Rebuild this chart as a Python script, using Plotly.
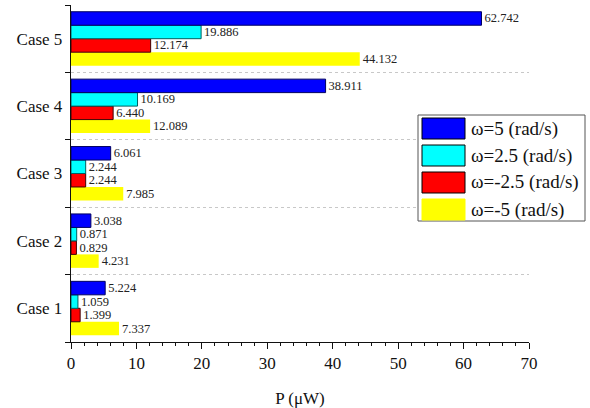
import plotly.graph_objects as go

cases = ["Case 1", "Case 2", "Case 3", "Case 4", "Case 5"]
w_p5 = [5.224, 3.038, 6.061, 38.911, 62.742]
w_p25 = [1.059, 0.871, 2.244, 10.169, 19.886]
w_m25 = [1.399, 0.829, 2.244, 6.440, 12.174]
w_m5 = [7.337, 4.231, 7.985, 12.089, 44.132]
series_names = ["ω=5 (rad/s)", "ω=2.5 (rad/s)", "ω=-2.5 (rad/s)", "ω=-5 (rad/s)"]
series_values = [w_p5, w_p25, w_m25, w_m5]
fills = ["#0000ff", "#00ffff", "#ff0000", "#ffff00"]
outlines = ["#000060", "#006060", "#400000", "#ffff00"]
outline_w = [1, 1, 1, 0]

FONT = "Liberation Serif"
L, R, T, B = 71, 61, 5, 66
W, H = 590, 408
pw, ph = W - L - R, H - T - B

fig = go.Figure()
# plotly stacks horizontal grouped bars bottom-up, so add the last series first
for i in reversed(range(4)):
    fig.add_trace(go.Bar(
        y=cases, x=series_values[i], orientation="h", name=series_names[i],
        marker=dict(color=fills[i], line=dict(color=outlines[i], width=outline_w[i])),
        texttemplate="%{x:.3f}", textposition="outside", cliponaxis=False,
        constraintext="none",
        textfont=dict(family=FONT, size=12.5, color="#222222"),
        showlegend=False,
    ))

def px(x):
    return (x - L) / pw

def py(y):
    return (H - B - y) / ph

shapes = [dict(type="rect", xref="paper", yref="paper",
               x0=px(418), x1=px(585), y0=py(221), y1=py(115),
               line=dict(color="#555555", width=1), fillcolor="white", layer="above")]
annotations = []
for k in range(4):
    top = 118 + 27 * k
    shapes.append(dict(type="rect", xref="paper", yref="paper",
                       x0=px(422), x1=px(465), y0=py(top + 21), y1=py(top),
                       line=dict(color="#000000" if k < 3 else fills[k], width=1),
                       fillcolor=fills[k], layer="above"))
    annotations.append(dict(xref="paper", yref="paper", x=px(469), y=py(top + 10.5),
                            text=series_names[k], showarrow=False, xanchor="left",
                            yanchor="middle",
                            font=dict(family=FONT, size=19, color="#111111")))

fig.update_layout(
    width=W, height=H, barmode="group", bargap=0.2, bargroupgap=0,
    margin=dict(l=L, r=R, t=T, b=B, autoexpand=False),
    plot_bgcolor="white", paper_bgcolor="white",
    font=dict(family=FONT, size=17, color="#111111"),
    shapes=shapes, annotations=annotations,
    xaxis=dict(range=[0, 70], dtick=10, showgrid=False, zeroline=False,
               showline=True, linecolor="#111111", linewidth=1,
               ticks="outside", ticklen=6, tickcolor="#111111",
               minor=dict(dtick=2, ticks="outside", ticklen=3, tickcolor="#111111"),
               tickfont=dict(family=FONT, size=17), automargin=False,
               title=dict(text="P (μW)", font=dict(family=FONT, size=17), standoff=19)),
    yaxis=dict(type="category", categoryorder="array", categoryarray=cases,
               tickson="boundaries", ticks="outside", ticklen=5, tickcolor="#111111",
               showline=True, linecolor="#111111", linewidth=1, automargin=False,
               showgrid=True, gridcolor="#c8c8c8", griddash="dot", gridwidth=1,
               zeroline=False, tickfont=dict(family=FONT, size=17), ticksuffix=" "),
)

fig.write_html("out.html", config={"displayModeBar": False},
               post_script="document.body.style.margin='0';")
